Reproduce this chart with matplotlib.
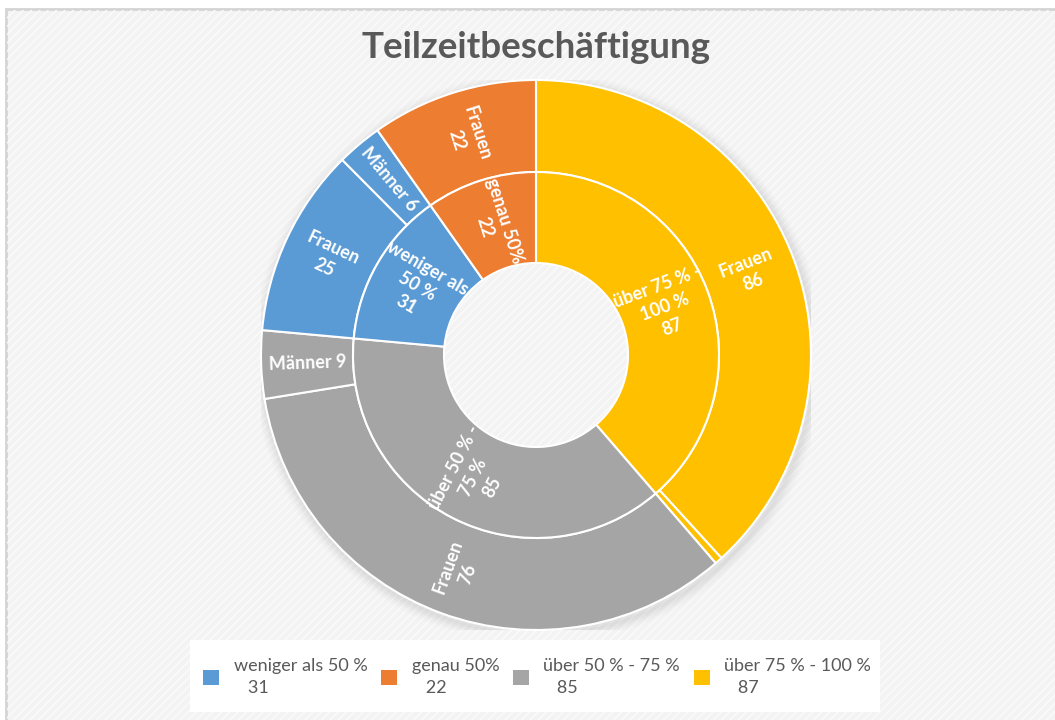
import matplotlib
matplotlib.use("Agg")
import matplotlib.pyplot as plt
from matplotlib.patches import Patch, Rectangle, Wedge
import numpy as np

plt.rcParams['font.family'] = ['Lato', 'DejaVu Sans']
plt.rcParams['hatch.color'] = "#fbfbfb"
plt.rcParams['hatch.linewidth'] = 1.0

# ---- data ----
categories = ["über 75 % -\n100 %", "über 50 % -\n75 %", "weniger als\n50 %", "genau 50%"]
legend_names = ["weniger als 50 %", "genau 50%", "über 50 % - 75 %", "über 75 % - 100 %"]
legend_values = [31, 22, 85, 87]
inner_values = [87, 85, 31, 22]
cat_colors = ["#FFC000", "#A5A5A5", "#5B9BD5", "#ED7D31"]
legend_colors = ["#5B9BD5", "#ED7D31", "#A5A5A5", "#FFC000"]

outer_labels = ["Frauen", "Männer", "Frauen", "Männer", "Frauen", "Männer", "Frauen"]
outer_values = [86, 1, 76, 9, 25, 6, 22]
outer_parent = [0, 0, 1, 1, 2, 2, 3]
outer_show = [True, False, True, True, True, True, True]
outer_twoline = [True, False, True, False, True, False, True]

W, H = 1055, 720
fig = plt.figure(figsize=(W / 100, H / 100), dpi=100)
fig.patch.set_facecolor("white")

# background panel with diagonal stripes
bg = fig.add_axes([0, 0, 1, 1])
bg.set_xlim(0, W)
bg.set_ylim(H, 0)
bg.axis("off")
bg.add_patch(Rectangle((6, 9), W + 20, H + 20, facecolor="#f3f3f3", edgecolor="#d4d4d4", lw=2.0))
bg.add_patch(Rectangle((7, 10), W + 20, H + 20, facecolor="none", edgecolor="#fbfbfb", lw=0, hatch="////"))
# legend box
bg.add_patch(Rectangle((190, 640), 690, 72, facecolor="white", edgecolor="none"))

cx, cy, R = 536, 355, 275
ax = fig.add_axes([(cx - R) / W, (H - cy - R) / H, 2 * R / W, 2 * R / H])
ax.set_aspect("equal")
ax.axis("off")

r_out, r_mid, r_in = 1.0, 183 / 275, 92 / 275

# soft shadow outside the ring only
for i, a in enumerate(np.linspace(0.07, 0.015, 6)):
    ax.add_patch(Wedge((0.008, -0.012), 1.0 + 0.007 * (i + 1), 0, 360, width=0.03,
                       facecolor="#888888", alpha=a, lw=0))

outer_colors = [cat_colors[p] for p in outer_parent]
wo, _ = ax.pie(outer_values, radius=r_out, colors=outer_colors, startangle=90, counterclock=False,
               wedgeprops=dict(width=r_out - r_mid, edgecolor="white", linewidth=1.5))
wi, _ = ax.pie(inner_values, radius=r_mid, colors=cat_colors, startangle=90, counterclock=False,
               wedgeprops=dict(width=r_mid - r_in, edgecolor="white", linewidth=1.5))
ax.set_xlim(-1, 1)
ax.set_ylim(-1, 1)


def rot_for(theta):
    t = (theta + 180) % 360 - 180
    if t > 90:
        t -= 180
    elif t <= -90:
        t += 180
    return t


def place(w, text, rmid, fs=13):
    th = 0.5 * (w.theta1 + w.theta2)
    x = rmid * np.cos(np.radians(th))
    y = rmid * np.sin(np.radians(th))
    ax.text(x, y, text, rotation=rot_for(th), rotation_mode="anchor", ha="center", va="center",
            color="white", fontsize=fs, fontweight="bold", multialignment="center", linespacing=1.3)


for w, lab, v, show, two in zip(wo, outer_labels, outer_values, outer_show, outer_twoline):
    if show:
        txt = f"{lab}\n{v}" if two else f"{lab} {v}"
        place(w, txt, (r_out + r_mid) / 2)

for w, lab, v in zip(wi, categories, inner_values):
    place(w, f"{lab}\n{v}", (r_mid + r_in) / 2)

fig.text(cx / W, 1 - 48 / H, "Teilzeitbeschäftigung", ha="center", va="center",
         fontsize=26.5, fontweight="bold", color="#595959")

handles = [Patch(facecolor=c, edgecolor="none") for c in legend_colors]
labels = [f"{n}\n   {v}" for n, v in zip(legend_names, legend_values)]
leg = fig.legend(handles, labels, ncol=4, loc="center", bbox_to_anchor=(537 / W, 1 - 677 / H),
                 frameon=False, fontsize=13, handlelength=0.9, handleheight=0.9, columnspacing=0.75,
                 handletextpad=0.8)
for t in leg.get_texts():
    t.set_color("#595959")
    t.set_linespacing(1.45)

fig.savefig("out.png", dpi=100)
